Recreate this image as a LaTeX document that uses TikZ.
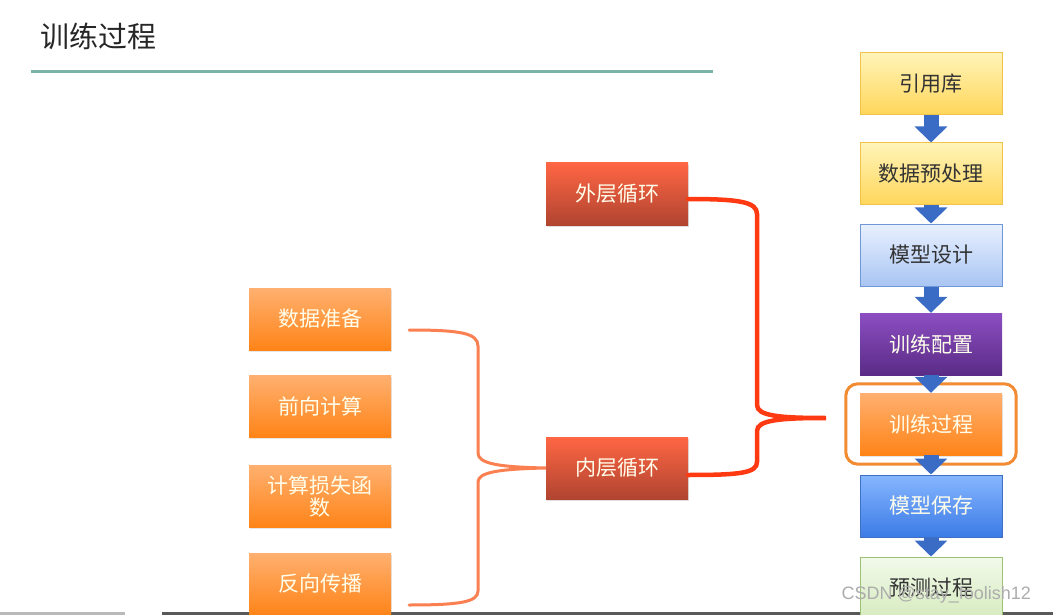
\documentclass[tikz,border=0pt]{standalone}
\usepackage{fontspec}
\setmainfont{Liberation Sans}
\newfontfamily\cjk{Noto Sans CJK SC}
\usetikzlibrary{arrows.meta,fit,shadows}

\definecolor{titleline}{HTML}{7AB4A9}
\definecolor{darktext}{HTML}{333333}
\definecolor{yellowtop}{HTML}{FFF4B8}
\definecolor{yellowbot}{HTML}{FFD65A}
\definecolor{yellowline}{HTML}{F2C24A}
\definecolor{paletop}{HTML}{E8F0FF}
\definecolor{palebot}{HTML}{A9C5F3}
\definecolor{paleline}{HTML}{7098D8}
\definecolor{purpletop}{HTML}{8C4EC2}
\definecolor{purplebot}{HTML}{5A2C86}
\definecolor{orangetop}{HTML}{FFB070}
\definecolor{orangebot}{HTML}{FF8418}
\definecolor{bluetop}{HTML}{86B6FF}
\definecolor{bluebot}{HTML}{3C7BE6}
\definecolor{blueline}{HTML}{4070C4}
\definecolor{greentop}{HTML}{F2F9EA}
\definecolor{greenbot}{HTML}{D6EBBE}
\definecolor{greenline}{HTML}{9CC274}
\definecolor{redtop}{HTML}{FF6644}
\definecolor{redmid}{HTML}{F05A3C}
\definecolor{redbot}{HTML}{B04430}
\definecolor{arrowblue}{HTML}{3A6CC6}
\definecolor{ringorange}{HTML}{F28C33}
\definecolor{braceleft}{HTML}{FA8052}
\definecolor{braceright}{HTML}{FF3A12}

\begin{document}
\begin{tikzpicture}[x=1pt,y=-1pt,
    box/.style={minimum width=142pt,minimum height=62pt,inner sep=2pt,align=center,
      font=\cjk\fontsize{21}{25}\selectfont},
    lightbox/.style={box,line width=1pt,text=darktext},
    darkbox/.style={box,text=white!92!yellow},
    yellowbox/.style={lightbox,top color=yellowtop,bottom color=yellowbot,draw=yellowline},
    palebox/.style={lightbox,top color=paletop,bottom color=palebot,draw=paleline},
    greenbox/.style={lightbox,top color=greentop,bottom color=greenbot,draw=greenline},
    purplebox/.style={darkbox,top color=purpletop,bottom color=purplebot},
    bluebox/.style={darkbox,top color=bluetop,bottom color=bluebot,draw=blueline,line width=1pt},
    orangebox/.style={darkbox,top color=orangetop,bottom color=orangebot,
      drop shadow={opacity=0.2,shadow xshift=1pt,shadow yshift=-2pt}},
    redbox/.style={darkbox,top color=redtop,middle color=redmid,bottom color=redbot,
      drop shadow={opacity=0.25,shadow xshift=1pt,shadow yshift=-2pt}},
    blockarrow/.style={arrowblue,line width=15pt,-{Triangle[width=32pt,length=16pt]}},
  ]
  \useasboundingbox (0,0) rectangle (1053,615);
  \clip (0,0) rectangle (1053,615);

  % screen bar at the bottom
  \draw[line width=3pt,gray!55] (0,613) -- (125,613);
  \draw[line width=3pt,black!65] (162,613) -- (1053,613);

  % title
  \node[font=\cjk\fontsize{29}{34}\selectfont,text=black!85] (title) at (98,36) {训练过程};
  \draw[titleline,line width=3pt] (31,72) -- (713,72);

  % steps on the right
  \node[yellowbox] (s1) at (931,84) {引用库};
  \node[yellowbox] (s2) at (931,174) {数据预处理};
  \node[palebox] (s3) at (931,255) {模型设计};
  \node[purplebox] (s4) at (931,344) {训练配置};
  \node[orangebox] (s5) at (931,424) {训练过程};
  \node[bluebox] (s6) at (931,506) {模型保存};
  \node[greenbox] (s7) at (931,588) {预测过程};
  \node[draw=ringorange,line width=3pt,rounded corners=12pt,fit=(s5),
    inner xsep=14pt,inner ysep=9pt] (ring) {};

  % loops
  \node[redbox] (o) at (617,194) {外层循环};
  \node[redbox] (i) at (617,468) {内层循环};

  % inner steps
  \node[orangebox] (t1) at (320,319) {数据准备};
  \node[orangebox] (t2) at (320,406) {前向计算};
  \node[orangebox] (t3) at (320,496) {计算损失函\\[-3pt]数};
  \node[orangebox] (t4) at (320,584) {反向传播};

  \coordinate (lb1) at (409,330);
  \coordinate (lb2) at (409,605);
  \coordinate (rb) at (826,418);

  % braces
  \draw[braceleft,line width=3pt,line cap=round]
    (lb1) .. controls (460,330) and (478,333) .. (478,346) -- (478,453)
    .. controls (478,464) and (500,467) .. (i.west)
    .. controls (500,469) and (478,472) .. (478,482) -- (478,591)
    .. controls (478,602) and (460,605) .. (lb2);
  \draw[braceright,line width=4.5pt,line cap=round]
    ([yshift=-5pt]o.east) .. controls (740,199) and (757,202) .. (757,214) -- (757,405)
    .. controls (757,416) and (780,418) .. (rb)
    .. controls (780,418) and (757,420) .. (757,431) -- (757,462)
    .. controls (757,473) and (740,475) .. ([yshift=-7pt]i.east);

  \path[blockarrow]
    (s1) edge (s2)
    (s2) edge (s3)
    (s3) edge (s4)
    (s4) edge (s5)
    (s5) edge (s6)
    (s6) edge (s7)
    ;

  \node[font=\fontsize{18}{21}\selectfont,text=gray!65,anchor=west] (wm) at (838,595) {CSDN @stay\_foolish12};
\end{tikzpicture}
\end{document}
